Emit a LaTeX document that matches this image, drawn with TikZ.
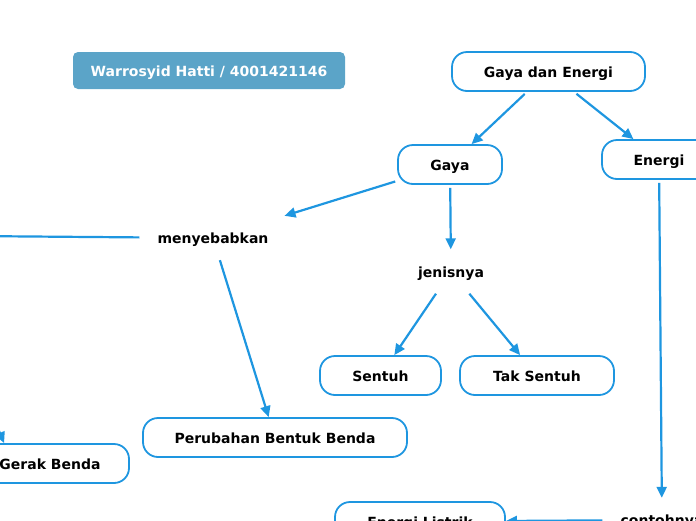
\documentclass[tikz,border=0pt]{standalone}
\usepackage{fontspec}
\setmainfont{DejaVu Sans}
\usetikzlibrary{arrows.meta}
\definecolor{linkblue}{RGB}{30,150,224}
\definecolor{headblue}{RGB}{91,164,200}

\begin{document}
\begin{tikzpicture}[x=1pt,y=-1pt,
    font=\fontsize{14}{16}\selectfont\bfseries,
    every node/.style={text height=12pt,text depth=0.4pt},
    topic/.style={draw=linkblue,line width=1.8pt,rounded corners=15pt,
      fill=white,inner xsep=0pt,minimum height=39pt},
    label/.style={inner xsep=18pt,inner ysep=0pt,minimum height=44pt},
    conn/.style={draw=linkblue,line width=2.2pt,
      -{Triangle[length=11pt,width=10pt]}},
    plain/.style={draw=linkblue,line width=2.2pt}]
  \useasboundingbox (0,0) rectangle (696,520);
  \clip (0,0) rectangle (696,520);

  % header
  \node[fill=headblue,text=white,rounded corners=5pt,minimum width=272pt,
    minimum height=37pt] (author) at (209,70.5) {Warrosyid Hatti / 4001421146};

  % boxes
  \node[topic,minimum width=193pt] (gde)    at (548.5,71.5) {Gaya dan Energi};
  \node[topic,minimum width=104pt] (gaya)   at (450,164.5)  {Gaya};
  \node[topic,minimum width=114pt] (energi) at (659,159.5)  {Energi};
  \node[topic,minimum width=121pt] (sentuh) at (380.5,375.5) {Sentuh};
  \node[topic,minimum width=154pt] (tak)    at (537,375.5)  {Tak Sentuh};
  \node[topic,minimum width=264pt] (bentuk) at (275,437.5)  {Perubahan Bentuk Benda};
  \node[topic,minimum width=158pt] (gerak)  at (50,463.5)   {Gerak Benda};
  \node[topic,minimum width=170pt] (listrik) at (420,521.5) {Energi Listrik};

  % linking words
  \node[label] (sebab) at (213,238)   {menyebabkan};
  \node[label] (jenis) at (451,271.5) {jenisnya};
  \node[label] (contoh) at (662,520)  {contohnya};

  % free ends outside the page
  \coordinate (kiri)   at (-30,236);
  \coordinate (gerakin) at (-12,405);

  % links
  \draw[conn,shorten <=3pt] (gde) -- (gaya);
  \draw[conn,shorten <=3pt] (gde) -- (energi);
  \draw[conn,shorten <=2pt] (gaya) -- (sebab);
  \draw[conn,shorten <=3pt] (gaya) -- (jenis);
  \draw[plain] (sebab) -- (kiri);
  \draw[conn] (sebab) -- (bentuk);
  \draw[conn] (gerakin) -- ([xshift=34pt]gerak.north west);
  \draw[conn] (jenis) -- (sentuh);
  \draw[conn] (jenis) -- (tak);
  \draw[conn,shorten <=3pt] (energi) -- (contoh);
  \draw[conn] (contoh) -- (listrik);
\end{tikzpicture}
\end{document}
